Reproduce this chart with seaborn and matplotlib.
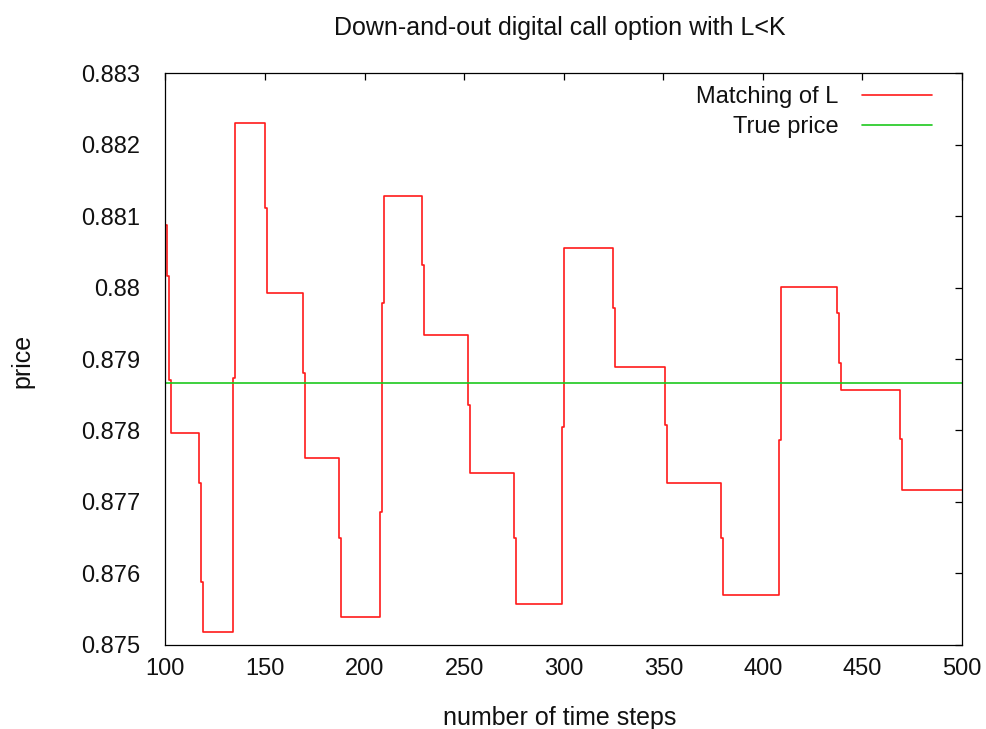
import matplotlib
matplotlib.use("Agg")
import matplotlib.pyplot as plt
import seaborn as sns
import pandas as pd
from matplotlib.ticker import FixedLocator, FixedFormatter

# ---- data ----
steps = [100, 101, 102, 103, 117, 118, 119, 134, 135, 150, 151, 169, 170,
         187, 188, 208, 209, 210, 229, 230, 252, 253, 275, 276, 299, 300,
         325, 326, 351, 352, 379, 380, 408, 409, 437, 438, 439, 469, 470, 500]
matching_price = [0.88087, 0.88016, 0.87870, 0.87797, 0.87726, 0.87587, 0.87517,
                  0.87873, 0.88231, 0.88112, 0.87992, 0.87880, 0.87762,
                  0.87650, 0.87539, 0.87686, 0.87979, 0.88128, 0.88031, 0.87933,
                  0.87836, 0.87741, 0.87649, 0.87557, 0.87805, 0.88055,
                  0.87971, 0.87889, 0.87808, 0.87727, 0.87649, 0.87569,
                  0.87786, 0.88001, 0.87965, 0.87894, 0.87857, 0.87788,
                  0.87717, 0.87717]
true_steps = [100, 500]
true_price = [0.878668, 0.878668]

xticks = [100, 150, 200, 250, 300, 350, 400, 450, 500]
xtick_labels = ["100", "150", "200", "250", "300", "350", "400", "450", "500"]
yticks = [0.875, 0.876, 0.877, 0.878, 0.879, 0.880, 0.881, 0.882, 0.883]
ytick_labels = ["0.875", "0.876", "0.877", "0.878", "0.879", "0.88",
                "0.881", "0.882", "0.883"]

df_match = pd.DataFrame({"N": steps, "price": matching_price})
df_true = pd.DataFrame({"N": true_steps, "price": true_price})

sns.set_theme(style="white")
plt.rcParams["font.family"] = ["Liberation Sans", "DejaVu Sans"]

FS = 17
FS_LAB = 18
fig = plt.figure(figsize=(9.86, 7.29), dpi=100)
ax = fig.add_axes([165.4 / 986, 1 - 644.6 / 729, (962 - 165.4) / 986, (644.6 - 73.4) / 729])

sns.lineplot(data=df_match, x="N", y="price", ax=ax, color="#ff1a1a",
             linewidth=1.2, drawstyle="steps-post", label="Matching of L",
             estimator=None, sort=False)
sns.lineplot(data=df_true, x="N", y="price", ax=ax, color="#1ec81e",
             linewidth=1.2, label="True price", estimator=None, sort=False)

ax.set_xlim(100, 500)
ax.set_ylim(0.875, 0.883)
ax.xaxis.set_major_locator(FixedLocator(xticks))
ax.xaxis.set_major_formatter(FixedFormatter(xtick_labels))
ax.yaxis.set_major_locator(FixedLocator(yticks))
ax.yaxis.set_major_formatter(FixedFormatter(ytick_labels))

ax.tick_params(axis="both", which="major", direction="in", length=5,
               width=0.9, color="black", labelsize=FS, labelcolor="#111111",
               top=True, right=True)
ax.tick_params(axis="y", pad=18)
ax.tick_params(axis="x", pad=10)
for s in ax.spines.values():
    s.set_visible(True)
    s.set_color("black")
    s.set_linewidth(0.9)

ax.set_xlabel("number of time steps", fontsize=FS_LAB, color="#111111")
ax.xaxis.set_label_coords(0.495, -0.129)
ax.xaxis.label.set_va("center")
ax.set_ylabel("price", fontsize=FS_LAB, color="#111111")
ax.yaxis.set_label_coords(-0.180, 0.4965)
ax.yaxis.label.set_va("center")
ax.text(0.495, 1.0795, "Down-and-out digital call option with L<K",
        transform=ax.transAxes, ha="center", va="center", fontsize=FS_LAB,
        color="#111111")

leg = ax.legend(loc="upper right", bbox_to_anchor=(0.9624, 0.978),
                frameon=False, fontsize=FS, markerfirst=False,
                handlelength=2.97, handletextpad=1.0, labelspacing=0.36,
                borderpad=0, borderaxespad=0)
for t in leg.get_texts():
    t.set_color("#111111")

fig.savefig("out.png", dpi=100, facecolor="white")
